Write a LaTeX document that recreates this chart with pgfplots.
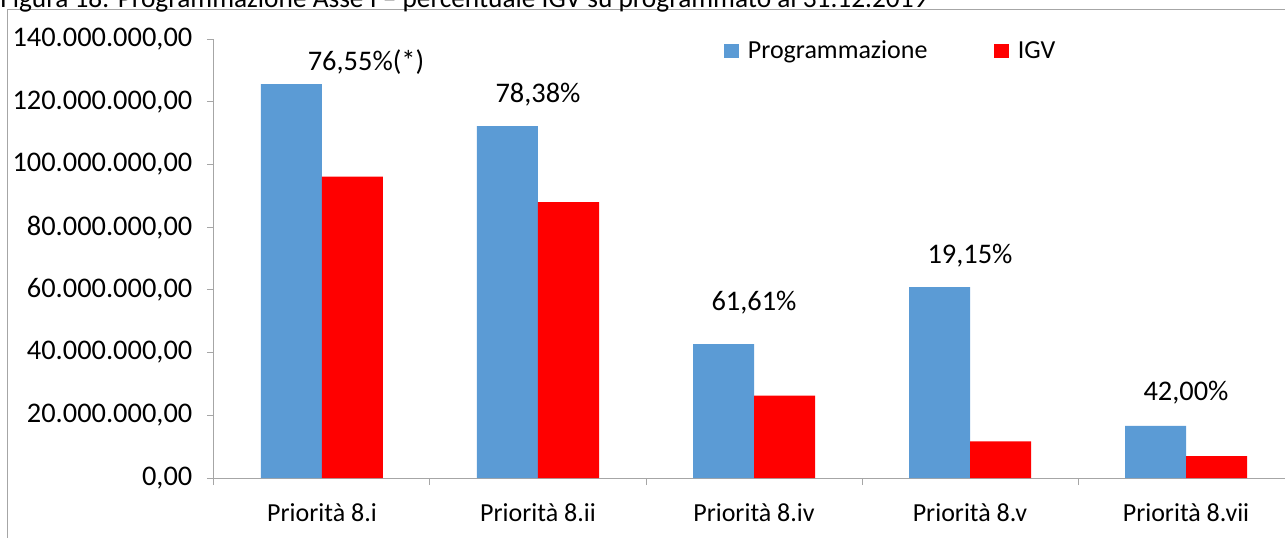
\documentclass[border=0pt]{standalone}
\usepackage{pgfplots}
\pgfplotsset{compat=1.18}
\usepackage{fontspec}
\setmainfont{Carlito}
\definecolor{progblue}{HTML}{5B9BD5}
\definecolor{igvred}{HTML}{FF0000}
\definecolor{axgray}{HTML}{A6A6A6}
\newcommand{\cf}{\fontsize{19.5}{23}\selectfont}
\newcommand{\nf}{\fontsize{21.3}{25}\selectfont}
\begin{document}
\begin{tikzpicture}
\begin{axis}[
  scale only axis, width=810pt, height=329.25pt,
  xmin=-0.5, xmax=4.5, ymin=0, ymax=140000000,
  ybar=0pt, bar width=45.75pt,
  axis lines*=left,
  axis line style={axgray, line width=0.75pt},
  xtick={0,1,2,3,4},
  xticklabels={Priorità 8.i, Priorità 8.ii, Priorità 8.iv, Priorità 8.v, Priorità 8.vii},
  minor xtick={-0.5,0.5,1.5,2.5,3.5,4.5},
  major x tick style={draw=none},
  minor x tick style={axgray, line width=0.75pt},
  y tick style={axgray, line width=0.75pt},
  tick align=outside,
  major tick length=5.25pt, minor tick length=5.25pt,
  ytick={0,20000000,40000000,60000000,80000000,100000000,120000000,140000000},
  scaled y ticks=false,
  yticklabel style={font=\nf, text=black, anchor=east, xshift=-7.5pt, /pgf/number format/.cd, fixed, fixed zerofill, precision=2, use comma, 1000 sep={.}, assume math mode=true},
  xticklabel style={font=\cf, text=black, yshift=-10.5pt},
  legend style={draw=none, fill=none, at={(0.4685,0.9727)}, anchor=west, legend columns=2,
    /tikz/every even column/.append style={column sep=48pt}, font=\cf},
  clip=false,
]
\addplot[fill=progblue, draw=none, legend image code/.code={\fill[progblue] (0pt,-5.6pt) rectangle (11.25pt,5.6pt); \path (15.75pt,0pt);}]
  coordinates {(0,125600000) (1,112200000) (2,42700000) (3,60900000) (4,16600000)};
\addlegendentry{Programmazione}
\addplot[fill=igvred, draw=none, legend image code/.code={\fill[igvred] (0pt,-5.6pt) rectangle (11.25pt,5.6pt); \path (15.75pt,0pt);}]
  coordinates {(0,96150000) (1,87940000) (2,26300000) (3,11660000) (4,6970000)};
\addlegendentry{IGV}
\node[font=\nf] at (axis cs:0.2037,132700000) {76,55\%(*)};
\node[font=\nf] at (axis cs:1.0,122400000) {78,38\%};
\node[font=\nf] at (axis cs:2.0,55800000) {61,61\%};
\node[font=\nf] at (axis cs:3.0,70800000) {19,15\%};
\node[font=\nf] at (axis cs:4.0,27100000) {42,00\%};
\end{axis}
\draw[axgray, line width=0.75pt] (-154.5pt,-100pt) -- (-154.5pt,351.75pt) -- (900pt,351.75pt);
\node[anchor=base west, inner sep=0pt, font=\fontsize{20.5}{24}\selectfont] at (-160.5pt,353.25pt) {Figura 18: Programmazione Asse I – percentuale IGV su programmato al 31.12.2019};
\pgfresetboundingbox
\useasboundingbox (-160.5pt,-44.25pt) rectangle (803.25pt,358.5pt);
\end{tikzpicture}
\end{document}
